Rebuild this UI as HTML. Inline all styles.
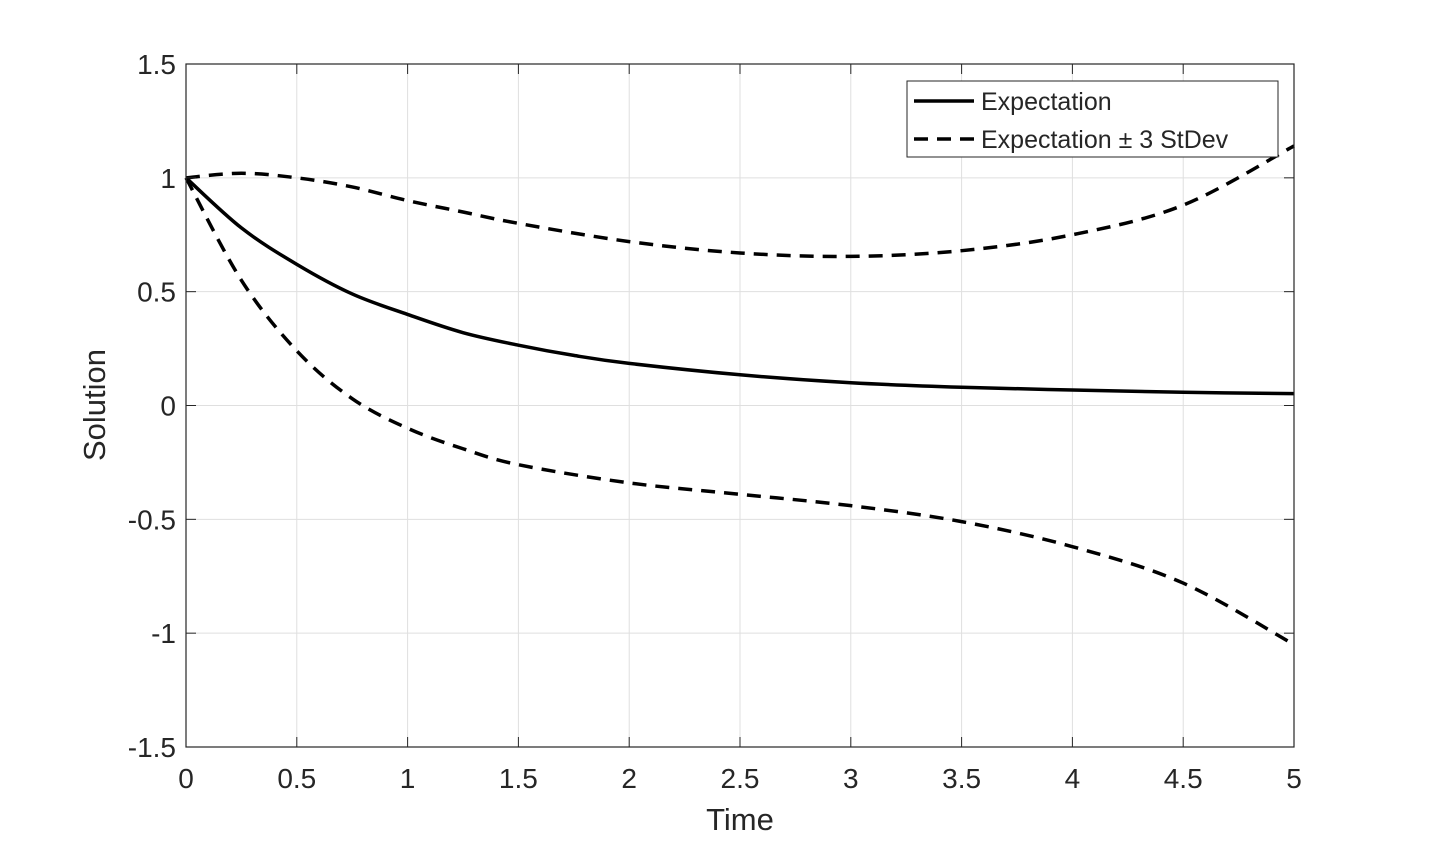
<!DOCTYPE html>
<html><head><meta charset="utf-8"><style>
html,body{margin:0;padding:0;background:#fff;}
svg text{font-family:"Liberation Sans",Arial,sans-serif;fill:#262626;}
</style></head><body>
<svg id="chart" width="1430" height="840">
<g id="grid"></g>
<g id="series"></g>
<rect x="186" y="64" width="1108" height="683" fill="none" stroke="#262626" stroke-width="1.2"/>
<g id="ticks"></g>
<text x="740" y="830" text-anchor="middle" font-size="31">Time</text>
<text transform="translate(105,405) rotate(-90)" text-anchor="middle" font-size="31">Solution</text>
<g>
<rect x="907" y="81" width="371" height="76" fill="#fff" stroke="#262626" stroke-width="1"/>
<line x1="914" y1="101" x2="974" y2="101" stroke="#000" stroke-width="3.5"/>
<text x="981" y="110" font-size="25">Expectation</text>
<line x1="914" y1="139" x2="974" y2="139" stroke="#000" stroke-width="3.5" stroke-dasharray="14,9"/>
<text x="981" y="148" font-size="25">Expectation ± 3 StDev</text>
</g>
</svg>
<script>
const tExp=[0,0.25,0.5,0.75,1,1.25,1.5,1.75,2,2.5,3,3.5,4,4.5,5];
const expectation=[1,0.78,0.62,0.49,0.40,0.32,0.265,0.22,0.185,0.135,0.10,0.08,0.068,0.058,0.052];
const tBand=[0,0.25,0.5,0.75,1,1.25,1.5,2,2.5,3,3.5,4,4.5,5];
const upper=[1,1.02,1.0,0.96,0.90,0.85,0.80,0.72,0.67,0.655,0.68,0.75,0.88,1.14];
const lower=[1,0.55,0.24,0.03,-0.10,-0.19,-0.26,-0.34,-0.39,-0.44,-0.51,-0.62,-0.78,-1.05];
const xTicks=[0,0.5,1,1.5,2,2.5,3,3.5,4,4.5,5];
const yTicks=[-1.5,-1,-0.5,0,0.5,1,1.5];
const X0=186,X1=1294,Y0=747,Y1=64;
const xs=v=>X0+(v-0)/(5-0)*(X1-X0);
const ys=v=>Y0-(v+1.5)/3*(Y0-Y1);
const NS='http://www.w3.org/2000/svg';
const grid=document.getElementById('grid'),ticks=document.getElementById('ticks'),ser=document.getElementById('series');
function mk(tag,attrs,parent){const e=document.createElementNS(NS,tag);for(const k in attrs)e.setAttribute(k,attrs[k]);parent.appendChild(e);return e;}
xTicks.forEach(v=>{
 const g=mk('line',{x1:xs(v),x2:xs(v),y1:Y1,y2:Y0,stroke:'#dfdfdf','stroke-width':1},grid);
 
 
 const t=mk('line',{x1:xs(v),x2:xs(v),y1:Y0,y2:Y0-10,stroke:'#262626'},ticks);
 
 
 const t2=mk('line',{x1:xs(v),x2:xs(v),y1:Y1,y2:Y1+10,stroke:'#262626'},ticks);
 
 
 const l=mk('text',{x:xs(v),y:Y0+41,'text-anchor':'middle','font-size':28},ticks);l.textContent=String(v);
 
 
});
yTicks.forEach(v=>{
 const g=mk('line',{x1:X0,x2:X1,y1:ys(v),y2:ys(v),stroke:'#dfdfdf','stroke-width':1},grid);
 
 
 const t=mk('line',{x1:X0,x2:X0+10,y1:ys(v),y2:ys(v),stroke:'#262626'},ticks);
 
 
 const t2=mk('line',{x1:X1,x2:X1-10,y1:ys(v),y2:ys(v),stroke:'#262626'},ticks);
 
 
 const l=mk('text',{x:X0-10,y:ys(v)+10,'text-anchor':'end','font-size':28},ticks);l.textContent=String(v);
 
 
});
function path(tx,vy){
 const p=tx.map((t,i)=>[xs(t),ys(vy[i])]);
 let d='M'+p[0][0]+','+p[0][1];
 for(let i=0;i<p.length-1;i++){
  const a=p[i-1]||p[i],b=p[i],c=p[i+1],e=p[i+2]||c;
  const c1=[b[0]+(c[0]-a[0])/6,b[1]+(c[1]-a[1])/6],c2=[c[0]-(e[0]-b[0])/6,c[1]-(e[1]-b[1])/6];
  d+=` C${c1[0]},${c1[1]} ${c2[0]},${c2[1]} ${c[0]},${c[1]}`;
 }
 return d;
}
const s1=mk('path',{d:path(tExp,expectation),fill:'none',stroke:'#000','stroke-width':3.5},ser);


const s2=mk('path',{d:path(tBand,upper),fill:'none',stroke:'#000','stroke-width':3.5,'stroke-dasharray':'14,9'},ser);


const s3=mk('path',{d:path(tBand,lower),fill:'none',stroke:'#000','stroke-width':3.5,'stroke-dasharray':'14,9'},ser);


</script>
</body></html>
